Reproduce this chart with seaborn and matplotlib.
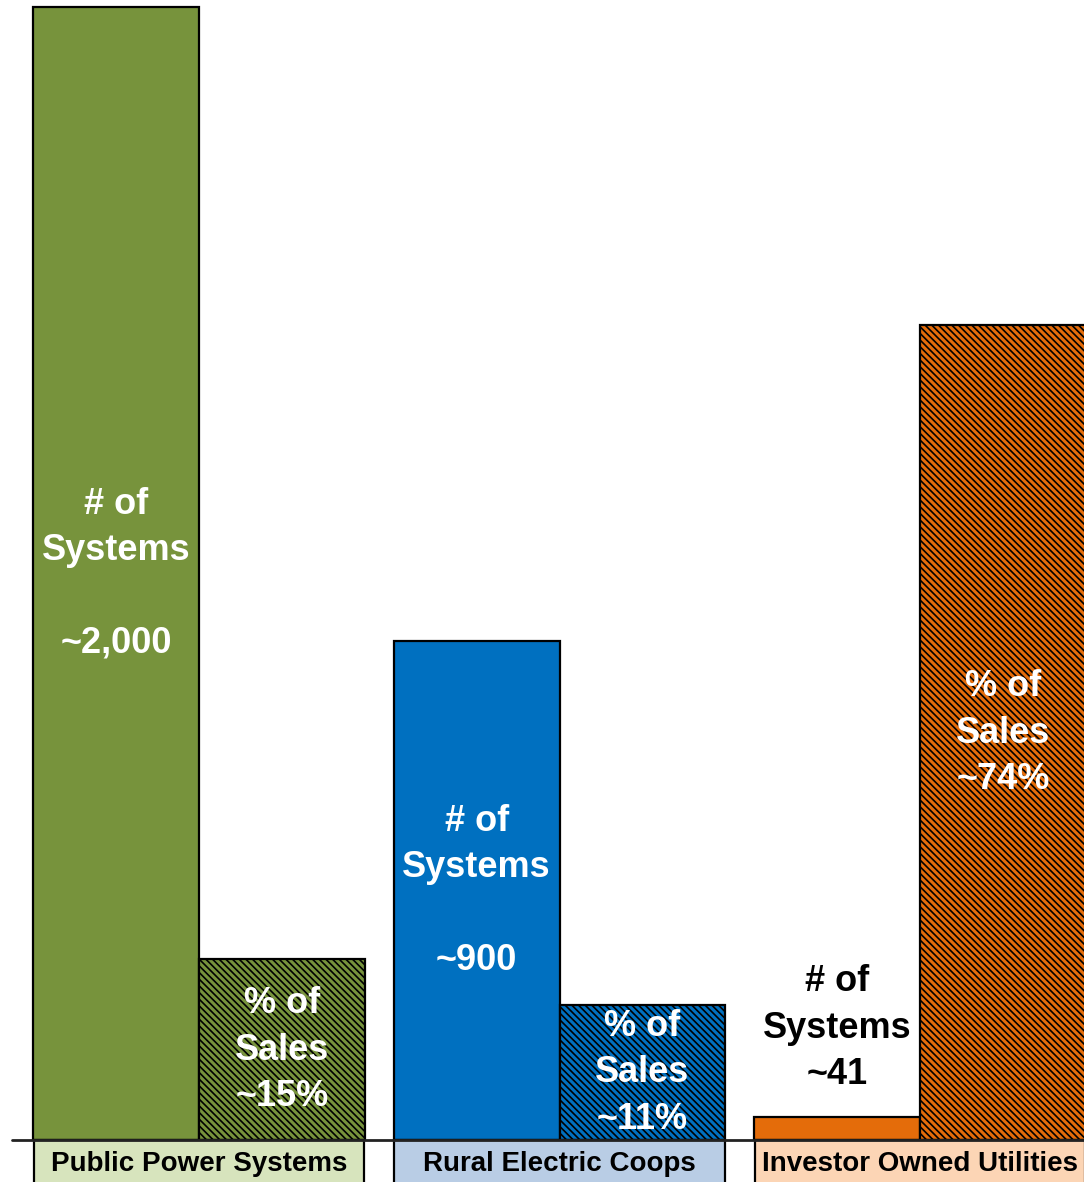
import matplotlib
matplotlib.use("Agg")
import matplotlib.pyplot as plt
import matplotlib.transforms as mtransforms
import seaborn as sns
import pandas as pd
from matplotlib.patches import Rectangle

# ---- data ----
groups = ["Public Power Systems", "Rural Electric Coops", "Investor Owned Utilities"]
systems_height = [2000, 880, 41]          # number of systems (bar heights as drawn)
sales_height = [16.4, 12.3, 74]           # share of sales, % (bar heights as drawn)
systems_labels = ["# of\nSystems\n\n~2,000", "# of\nSystems\n\n~900", "# of\nSystems\n~41"]
sales_labels = ["% of\nSales\n~15%", "% of\nSales\n~11%", "% of\nSales\n~74%"]
bar_colors = ["#77933C", "#0070C0", "#E46C0A"]
box_colors = ["#D7E4BD", "#B9CDE5", "#FCD5B5"]
metrics = ["systems", "sales"]

sns.set_theme(style="white")
plt.rcParams['font.family'] = ['Liberation Sans', 'DejaVu Sans']
plt.rcParams['hatch.linewidth'] = 1.2

W, H = 1084, 1182
fig = plt.figure(figsize=(W / 100, H / 100), dpi=100)
ax1 = fig.add_axes([12 / W, 42 / H, 1072 / W, 1140 / H])
ax2 = ax1.twinx()

df_sys = pd.DataFrame({"group": groups, "metric": "systems", "value": systems_height})
df_sales = pd.DataFrame({"group": groups, "metric": "sales", "value": sales_height})

sns.barplot(data=df_sys, x="group", y="value", hue="metric", hue_order=metrics,
            order=groups, width=0.92, dodge=True, ax=ax1, legend=False, errorbar=None)
sns.barplot(data=df_sales, x="group", y="value", hue="metric", hue_order=metrics,
            order=groups, width=0.92, dodge=True, ax=ax2, legend=False, errorbar=None)

for i, p in enumerate(ax1.patches[:3]):
    p.set_facecolor(bar_colors[i])
    p.set_edgecolor("black")
    p.set_linewidth(1.6)
for i, p in enumerate(ax2.patches[:3]):
    p.set_facecolor(bar_colors[i])
    p.set_edgecolor("black")
    p.set_linewidth(1.6)
    p.set_hatch("\\" * 5)

ax1.set_xlim(-0.519, 2.455)
ax1.set_ylim(0, 2012)
ax2.set_ylim(0, 103.5)
for ax in (ax1, ax2):
    ax.set_xlabel("")
    ax.set_ylabel("")
    ax.set_xticks([])
    ax.set_yticks([])
    for s in ax.spines.values():
        s.set_visible(False)
ax1.patch.set_alpha(0)
ax2.patch.set_alpha(0)

ax2.axhline(0, color="#222222", lw=2, clip_on=False, zorder=5)

trans = mtransforms.blended_transform_factory(ax2.transData, ax2.transAxes)
for i, g in enumerate(groups):
    rect = Rectangle((i - 0.458, -80 / 1140), 0.916, 80 / 1140, transform=trans,
                     facecolor=box_colors[i], edgecolor="black", lw=1.6, clip_on=False, zorder=4)
    ax2.add_patch(rect)
    ax2.text(i, -24 / 1140, g, transform=trans, ha="center", va="center",
             fontsize=20, fontweight="bold", color="black", zorder=6)

sys_y = [0.4965, 0.2184, 0.0982]
sales_y = [0.0789, 0.0588, 0.357]
sys_colors = ["white", "white", "black"]
for i in range(3):
    ax2.text(i - 0.23, sys_y[i], systems_labels[i], transform=trans, ha="center", va="center",
             fontsize=26, fontweight="bold", color=sys_colors[i], linespacing=1.42, zorder=6)
    ax2.text(i + 0.23, sales_y[i], sales_labels[i], transform=trans, ha="center", va="center",
             fontsize=26, fontweight="bold", color="white", linespacing=1.42, zorder=6)

fig.savefig("out.png", dpi=100)
